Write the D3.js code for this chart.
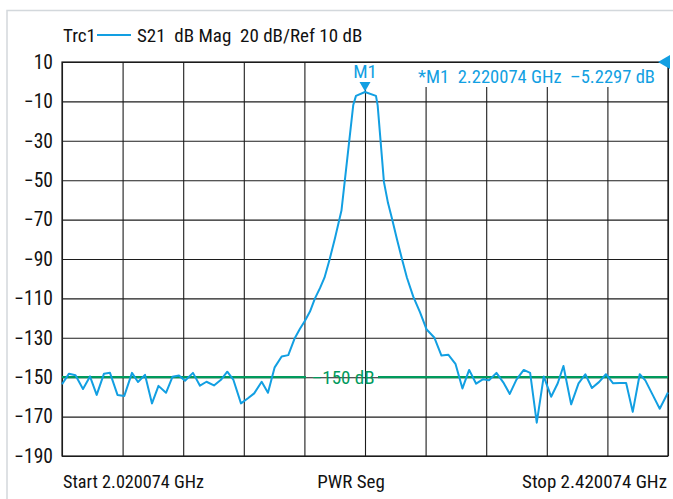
<!DOCTYPE html>
<html><head><meta charset="utf-8">
<script src="https://cdn.jsdelivr.net/npm/d3@7"></script>
<style>
html,body{margin:0;padding:0;background:#fff;}
svg{display:block;}
text{font-family:'Liberation Sans Narrow','Arial Narrow','Roboto Condensed',sans-serif;}
</style></head>
<body>
<svg id="chart" width="673" height="499"></svg>
<script>
// Frequency points (MHz) and S21 magnitude (dB)
const freqMHz = [2020.07,2024.69,2028.98,2033.93,2038.55,2042.97,2047.79,2051.75,2056.70,2061.19,2066.27,2070.23,2074.85,2079.47,2083.76,2088.71,2093.00,2097.29,2101.25,2106.53,2111.15,2115.44,2120.39,2125.01,2129.17,2133.13,2138.21,2142.83,2146.92,2151.87,2156.03,2160.45,2165.07,2169.43,2173.52,2177.15,2180.45,2183.75,2187.05,2190.35,2193.32,2196.62,2200.25,2204.54,2212.33,2214.11,2220.07,2227.31,2228.43,2232.59,2235.23,2237.87,2241.17,2244.47,2247.77,2251.93,2256.35,2260.77,2265.92,2270.54,2275.03,2279.78,2284.40,2288.82,2293.44,2298.06,2301.89,2306.84,2311.33,2315.62,2320.04,2324.86,2329.08,2333.44,2338.06,2342.94,2347.30,2351.06,2356.14,2361.03,2365.51,2369.87,2374.49,2379.11,2383.86,2388.15,2392.44,2396.80,2401.42,2405.11,2409.80,2414.62,2420.07];
const s21dB = [-153.6,-148.2,-149.0,-156.0,-149.6,-159.0,-148.2,-147.8,-159.0,-159.5,-147.8,-152.4,-148.8,-163.3,-154.4,-157.9,-149.8,-149.1,-151.8,-147.8,-154.3,-152.3,-154.2,-151.3,-147.2,-151.2,-163.3,-160.7,-158.2,-152.3,-157.9,-145.0,-139.5,-138.8,-130.5,-125.4,-121.3,-116.7,-110.0,-104.8,-99.5,-90.5,-79.5,-65.4,-11.8,-7.2,-5.2297,-7.2,-12.0,-51.0,-61.5,-69.5,-80.0,-90.0,-99.5,-109.1,-117.0,-125.8,-130.0,-139.0,-138.6,-143.2,-155.7,-146.3,-153.3,-151.0,-151.6,-147.8,-152.6,-158.5,-151.2,-146.3,-147.8,-173.1,-149.6,-159.9,-153.1,-144.3,-163.8,-153.1,-148.5,-155.5,-152.5,-148.5,-153.1,-153.0,-152.9,-167.6,-148.5,-151.6,-158.7,-166.0,-157.8];

const yTicks = [10,-10,-30,-50,-70,-90,-110,-130,-150,-170,-190];
const xGridMHz = [2020.074,2060.074,2100.074,2140.074,2180.074,2220.074,2260.074,2300.074,2340.074,2380.074,2420.074];
const startStop = [2020.074, 2420.074];
const markerFreqMHz = 2220.074;
const markerValue = -5.2297;
const limitLine = -150;
const legendText = ["Trc1", "S21  dB Mag  20 dB/Ref 10 dB"];
const bottomLabels = ["Start 2.020074 GHz", "PWR Seg", "Stop 2.420074 GHz"];
const markerLabel = "M1";
const markerInfo = "*M1  2.220074 GHz  \u20135.2297 dB";
const limitLabel = "\u2013150 dB";

const traceColor = "#129fe2";
const limitColor = "#009a5c";
const gridColor = "#1c1c1c";
const FS = 19;

const svg = d3.select("#chart");
const L = 62, R = 668, T = 62, B = 456;
const x = d3.scaleLinear().domain(startStop).range([L, R]);
const y = d3.scaleLinear().domain([-190, 10]).range([B, T]);

// outer light frame
svg.append("path").attr("d", `M7,499 V10.5 H673`).attr("fill","none").attr("stroke","#d3d8dc").attr("stroke-width",1.5);

// horizontal grid + y labels
const yAxis = d3.axisLeft(y).tickValues(yTicks).tickSize(-(R - L)).tickPadding(9)
  .tickFormat(d => d3.format("d")(d).replace("-", "\u2212").replace("\u2212", "\u2212"));
const gy = svg.append("g").attr("transform", `translate(${L},0)`).call(yAxis);
gy.select(".domain").remove();
gy.selectAll(".tick line").attr("stroke", gridColor).attr("stroke-width", 1.1);
gy.selectAll(".tick text").attr("font-size", FS + 0.5).attr("fill", "#111")
  .attr("font-family","'Liberation Sans Narrow','Arial Narrow',sans-serif");

// vertical grid
const xAxis = d3.axisBottom(x).tickValues(xGridMHz).tickSize(-(B - T)).tickFormat("");
const gx = svg.append("g").attr("transform", `translate(0,${B})`).call(xAxis);
gx.select(".domain").remove();
gx.selectAll(".tick line").attr("stroke", gridColor).attr("stroke-width", 1.1);

// frame
svg.append("rect").attr("x", L).attr("y", T).attr("width", R - L).attr("height", B - T)
  .attr("fill","none").attr("stroke", gridColor).attr("stroke-width", 1.2);

// white boxes behind marker texts
svg.append("rect").attr("x", x(markerFreqMHz) - 14).attr("y", T + 1).attr("width", 28).attr("height", 26).attr("fill","#fff");
svg.append("rect").attr("x", 412).attr("y", T + 1).attr("width", 244).attr("height", 24).attr("fill","#fff");

// limit line with label gap
const limY = y(limitLine);
svg.append("line").attr("x1", L).attr("x2", 306).attr("y1", limY).attr("y2", limY).attr("stroke", limitColor).attr("stroke-width", 2.2);
svg.append("line").attr("x1", 378).attr("x2", R).attr("y1", limY).attr("y2", limY).attr("stroke", limitColor).attr("stroke-width", 2.2);
svg.append("text").attr("x", 343).attr("y", limY + 7).attr("text-anchor","middle").attr("font-size", FS).attr("fill", limitColor).text(limitLabel);

// trace
const pts = freqMHz.map((f, i) => [f, s21dB[i]]);
svg.append("path").datum(pts)
  .attr("d", d3.line().x(d => x(d[0])).y(d => y(d[1])))
  .attr("fill","none").attr("stroke", traceColor).attr("stroke-width", 2).attr("stroke-linejoin","round");

// marker
const mx = x(markerFreqMHz), my = y(markerValue);
svg.append("path").attr("d", `M${mx - 5.5},${my - 10} L${mx + 5.5},${my - 10} L${mx},${my - 0.5} Z`).attr("fill", traceColor);
svg.append("text").attr("x", mx).attr("y", 78).attr("text-anchor","middle").attr("font-size", FS).attr("fill", traceColor).text(markerLabel);
svg.append("text").attr("x", 418).attr("y", 83).attr("font-size", FS).attr("fill", traceColor)
  .attr("textLength", 237).attr("lengthAdjust", "spacingAndGlyphs")
  .style("white-space","pre").text(markerInfo);

// reference level arrow at right edge
svg.append("path").attr("d", `M${R - 10},${y(10)} L${R + 2},${y(10) - 7} L${R + 2},${y(10) + 7} Z`).attr("fill", traceColor);

// legend
svg.append("text").attr("x", 63).attr("y", 42).attr("font-size", FS).attr("fill","#111").text(legendText[0]);
svg.append("line").attr("x1", 97).attr("x2", 131).attr("y1", 35).attr("y2", 35).attr("stroke", traceColor).attr("stroke-width", 1.8);
svg.append("text").attr("x", 137).attr("y", 42).attr("font-size", FS).attr("fill","#111")
  .style("white-space","pre").text(legendText[1]);

// bottom labels
svg.append("text").attr("x", 63).attr("y", 488).attr("font-size", FS).attr("fill","#111")
  .attr("textLength", 141).attr("lengthAdjust", "spacingAndGlyphs").text(bottomLabels[0]);
svg.append("text").attr("x", 351).attr("y", 488).attr("text-anchor","middle").attr("font-size", FS).attr("fill","#111").text(bottomLabels[1]);
svg.append("text").attr("x", 667).attr("y", 488).attr("text-anchor","end").attr("font-size", FS).attr("fill","#111").text(bottomLabels[2]);
</script>
</body></html>
